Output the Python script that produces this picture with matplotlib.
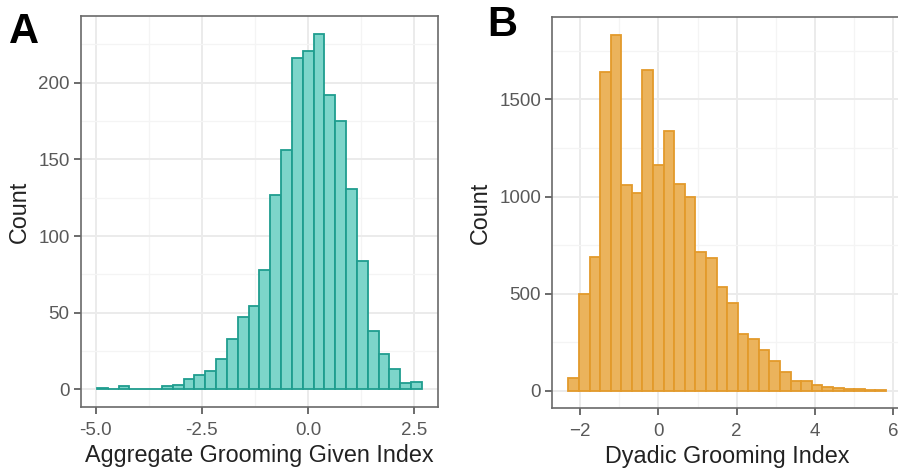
import numpy as np
import matplotlib
matplotlib.use("Agg")
import matplotlib.pyplot as plt
from matplotlib.ticker import MultipleLocator

plt.rcParams['font.family'] = ['Liberation Sans', 'DejaVu Sans']

# panel A: aggregate grooming given index, 30 bins
a_start = -4.97
a_width = 0.255
a_counts = [1, 0, 2, 0, 0, 0, 2, 3, 7, 9, 12, 20, 33, 47, 54, 78, 127, 156,
            216, 221, 232, 192, 175, 131, 84, 38, 23, 13, 4, 5]

# panel B: dyadic grooming index, 30 bins
b_start = -2.30
b_width = 0.2703
b_counts = [63, 496, 689, 1641, 1832, 1060, 1020, 1650, 1162, 1337, 1067, 1000,
            716, 684, 533, 450, 292, 265, 209, 151, 97, 51, 51, 26, 20, 12, 7, 6, 5, 4]

a_xticks = [-5.0, -2.5, 0.0, 2.5]
a_yticks = [0, 50, 100, 150, 200]
b_xticks = [-2, 0, 2, 4, 6]
b_yticks = [0, 500, 1000, 1500]

W, H = 898, 468
fig = plt.figure(figsize=(W / 100, H / 100), dpi=100)


def style(ax, xminor, yminor):
    ax.set_facecolor('white')
    ax.xaxis.set_minor_locator(MultipleLocator(xminor))
    ax.yaxis.set_minor_locator(MultipleLocator(yminor))
    ax.grid(which='major', color='#EBEBEB', lw=1.4, zorder=0)
    ax.grid(which='minor', color='#F4F4F4', lw=0.9, zorder=0)
    ax.set_axisbelow(True)
    for s in ax.spines.values():
        s.set_color('#6a6a6a')
        s.set_linewidth(1.2)
    ax.tick_params(which='major', length=5, width=1.1, color='#444444',
                   labelsize=13.5, labelcolor='#595959')
    ax.tick_params(axis='x', which='major', pad=5.5)
    ax.tick_params(axis='y', which='major', pad=3)
    ax.tick_params(which='minor', length=0)


# ---- A ----
axA = fig.add_axes([80.7 / W, 1 - 407 / H, (438 - 80.7) / W, (407 - 16) / H])
a_edges = a_start + a_width * np.arange(len(a_counts))
axA.bar(a_edges, a_counts, width=a_width, align='edge', color='#7DD5CA',
        edgecolor='#1F9D8F', linewidth=1.3, zorder=3)
style(axA, 1.25, 25)
axA.set_xticks(a_xticks)
axA.set_xticklabels([f'{v:.1f}' for v in a_xticks])
axA.set_yticks(a_yticks)
axA.set_xlim(-5.35, 3.06)
axA.set_ylim(-11.6, 243.6)
axA.set_xlabel('Aggregate Grooming Given Index', fontsize=16.8, color='#222222', labelpad=4)
axA.set_ylabel('Count', fontsize=16.8, color='#222222', labelpad=5)

# ---- B ----
axB = fig.add_axes([552.3 / W, 1 - 408.3 / H, (902 - 552.3) / W, (408.3 - 17.3) / H])
b_edges = b_start + b_width * np.arange(len(b_counts))
axB.bar(b_edges, b_counts, width=b_width, align='edge', color='#EBB35C',
        edgecolor='#E39A2B', linewidth=1.3, zorder=3)
style(axB, 1, 250)
axB.set_xticks(b_xticks)
axB.set_yticks(b_yticks)
axB.set_xlim(-2.71, 6.22)
axB.set_ylim(-91.6, 1923.6)
axB.set_xlabel('Dyadic Grooming Index', fontsize=16.8, color='#222222', labelpad=4)
axB.set_ylabel('Count', fontsize=16.8, color='#222222', labelpad=5)

fig.text(9 / W, 1 - 43 / H, 'A', fontsize=30, fontweight='bold', ha='left', va='baseline')
fig.text(487 / W, 1 - 36 / H, 'B', fontsize=30, fontweight='bold', ha='left', va='baseline')

fig.savefig('out.png', dpi=100)
